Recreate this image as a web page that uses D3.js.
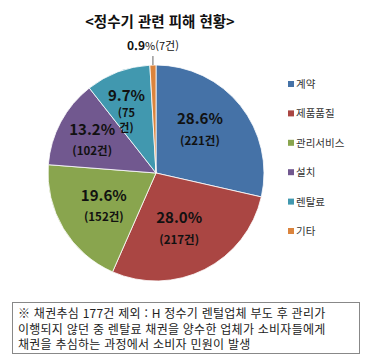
<!DOCTYPE html>
<html lang="ko">
<head>
<meta charset="UTF-8">
<title>정수기 관련 피해 현황</title>
<script src="https://cdn.jsdelivr.net/npm/d3@7"></script>
<style>
    body { margin: 0; background: #fff; }
    text { font-family: "Noto Sans CJK KR", "Noto Sans", sans-serif; }
</style>
</head>
<body>
<div id="chart"></div>
<script>
    var categories = ['계약', '제품품질', '관리서비스', '설치', '렌탈료', '기타'];
    var counts = [221, 217, 152, 102, 75, 7];
    var percents = ['28.6%', '28.0%', '19.6%', '13.2%', '9.7%', '0.9%'];
    var colors = ['#4572A7', '#AA4643', '#89A54E', '#71588F', '#4198AF', '#DB843D'];
    var noteLines = [
        '※ 채권추심 177건 제외 : H 정수기 렌털업체 부도 후 관리가',
        '이행되지 않던 중 렌탈료 채권을 양수한 업체가 소비자들에게',
        '채권을 추심하는 과정에서 소비자 민원이 발생'
    ];

    var w = 365, h = 359;
    var cx = 156, cy = 173, r = 108;

    var svg = d3.select('#chart').append('svg')
        .attr('width', w)
        .attr('height', h);

    // title
    svg.append('text')
        .attr('x', 160).attr('y', 27)
        .attr('text-anchor', 'middle')
        .attr('font-size', 14.5)
        .attr('font-weight', 'bold')
        .attr('fill', '#111')
        .text('<정수기 관련 피해 현황>');

    var data = categories.map(function(c, i) {
        return { name: c, value: counts[i], pct: percents[i], color: colors[i] };
    });

    var pie = d3.pie().sort(null).value(function(d) { return d.value; });
    var arcs = pie(data);
    var arc = d3.arc().innerRadius(0).outerRadius(r);

    var g = svg.append('g').attr('transform', 'translate(' + cx + ',' + cy + ')');

    g.selectAll('path')
        .data(arcs)
        .enter()
        .append('path')
        .attr('d', arc)
        .attr('fill', function(d) { return d.data.color; })
        .attr('stroke', '#fff')
        .attr('stroke-width', 0.8);

    // label radius and small angle nudge per slice
    var labelR = [62, 60, 62, 72, 74];
    var labelNudge = [-0.11, 0.07, -0.03, -0.01, -0.05];
    var labelG = g.selectAll('g.lbl')
        .data(arcs.slice(0, 5))
        .enter()
        .append('g')
        .attr('class', 'lbl')
        .attr('transform', function(d, i) {
            var a = (d.startAngle + d.endAngle) / 2 + labelNudge[i];
            return 'translate(' + (Math.sin(a) * labelR[i]) + ',' + (-Math.cos(a) * labelR[i]) + ')';
        });

    labelG.append('text')
        .attr('text-anchor', 'middle')
        .attr('y', function(d, i) { return i === 4 ? -4 : -5; })
        .attr('font-size', 15)
        .attr('font-weight', 'bold')
        .attr('fill', '#111')
        .text(function(d) { return d.data.pct; });

    labelG.each(function(d, i) {
        var sel = d3.select(this);
        var lines = i === 4 ? ['(' + d.data.value, '건)'] : ['(' + d.data.value + '건)'];
        lines.forEach(function(s, j) {
            sel.append('text')
                .attr('text-anchor', 'middle')
                .attr('y', i === 4 ? 12 + j * 15 : (i < 2 ? 16 : 15))
                .attr('font-size', i === 4 ? 11 : 11.5)
                .attr('font-weight', 'bold')
                .attr('fill', '#111')
                .text(s);
        });
    });

    // small slice label with leader line
    var small = arcs[5];
    var sa = (small.startAngle + small.endAngle) / 2;
    g.append('line')
        .attr('x1', Math.sin(sa) * r).attr('y1', -Math.cos(sa) * r)
        .attr('x2', Math.sin(sa) * r).attr('y2', -Math.cos(sa) * r - 9)
        .attr('stroke', '#666').attr('stroke-width', 1);
    var st = g.append('text')
        .attr('x', Math.sin(sa) * r)
        .attr('y', -Math.cos(sa) * r - 15)
        .attr('text-anchor', 'middle')
        .attr('fill', '#111');
    st.append('tspan').attr('font-size', 12).attr('font-weight', 'bold').text(small.data.pct.replace('%', ''));
    st.append('tspan').attr('font-size', 11).text('%(' + small.data.value + '건)');

    // legend
    var legend = svg.selectAll('g.leg')
        .data(data)
        .enter()
        .append('g')
        .attr('class', 'leg')
        .attr('transform', function(d, i) { return 'translate(288,' + (84 + i * 29.4) + ')'; });
    legend.append('rect')
        .attr('x', 0).attr('y', -3)
        .attr('width', 6).attr('height', 6)
        .attr('fill', function(d) { return d.color; });
    legend.append('text')
        .attr('x', 8).attr('y', 4)
        .attr('font-size', 10.5)
        .attr('fill', '#333')
        .text(function(d) { return d.name; });

    // footnote box
    svg.append('rect')
        .attr('x', 12.5).attr('y', 302.5)
        .attr('width', 347).attr('height', 51)
        .attr('fill', '#fff')
        .attr('stroke', '#888')
        .attr('stroke-width', 1);
    svg.selectAll('text.note')
        .data(noteLines)
        .enter()
        .append('text')
        .attr('class', 'note')
        .attr('x', 18)
        .attr('y', function(d, i) { return 318 + i * 15.5; })
        .attr('font-size', 12)
        .attr('letter-spacing', 0.25)
        .attr('fill', '#222')
        .text(function(d) { return d; });
</script>
</body>
</html>
